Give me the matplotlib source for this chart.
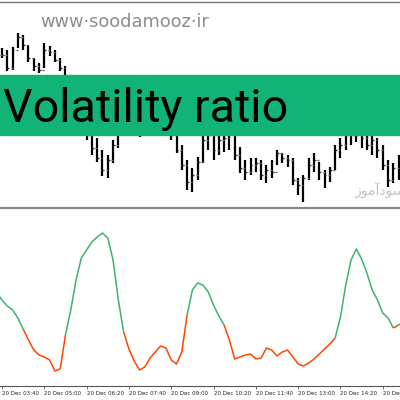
import matplotlib
matplotlib.use("Agg")
import matplotlib.pyplot as plt
from matplotlib.patches import Rectangle

# time axis: minutes after 20 Dec 03:40 (10-minute bars)
bar_time = list(range(0, 760, 10))
high = [162, 160, 163, 177, 175, 165, 152, 147, 167, 164, 160, 152, 144, 135, 122, 110,
        95, 82, 72, 60, 55, 70, 82, 98, 110, 112, 98, 105, 115, 122, 118, 105,
        92, 80, 65, 50, 42, 53, 75, 82, 75, 77, 80, 88, 80, 63, 50, 52,
        52, 50, 45, 50, 60, 57, 55, 52, 32, 35, 52, 57, 48, 40, 43, 65,
        72, 82, 85, 85, 80, 78, 77, 72, 65, 50, 47, 55]
low = [152, 139, 140, 162, 160, 148, 139, 137, 142, 154, 148, 139, 130, 115, 100, 85,
       70, 55, 48, 34, 32, 47, 62, 77, 85, 88, 73, 80, 92, 100, 95, 82,
       70, 57, 40, 20, 18, 30, 47, 60, 50, 55, 58, 60, 50, 37, 30, 35,
       38, 30, 27, 32, 45, 47, 43, 25, 15, 8, 30, 38, 30, 22, 28, 40,
       52, 60, 65, 68, 62, 60, 55, 52, 40, 23, 27, 30]
close = [155, 142, 160, 173, 165, 152, 144, 140, 160, 158, 150, 142, 132, 120, 105, 90,
         75, 62, 52, 40, 50, 65, 78, 92, 102, 95, 85, 100, 110, 115, 102, 88,
         75, 60, 45, 28, 35, 48, 70, 75, 60, 70, 72, 82, 55, 42, 38, 45,
         47, 35, 40, 38, 57, 52, 50, 30, 25, 32, 45, 50, 38, 35, 40, 60,
         65, 75, 78, 75, 72, 65, 70, 60, 45, 30, 42, 50]

# volatility ratio indicator
vr_time = list(range(-10, 770, 10))
vr = [92, 85, 79, 75, 67, 56, 45, 35, 30, 28, 25, 14, 16, 50, 75, 105,
      127, 135, 143, 148, 152, 147, 125, 85, 53, 36, 24, 15, 18, 27, 33, 39,
      37, 25, 21, 33, 70, 95, 102, 100, 93, 80, 69, 60, 45, 26, 28, 30,
      31, 26, 27, 37, 35, 29, 33, 35, 28, 21, 19, 22, 26, 31, 36, 41,
      47, 68, 100, 125, 136, 126, 112, 95, 85, 72, 67, 57, 60, 64]
# times where the line colour flips (starts green)
vr_switch = [40, 120, 230, 350, 420, 630, 740, 750]

tick_time = [0, 80, 160, 240, 320, 400, 480, 560, 640, 720]
tick_labels = ["20 Dec 03:40", "20 Dec 05:00", "20 Dec 06:20", "20 Dec 07:40",
               "20 Dec 09:00", "20 Dec 10:20", "20 Dec 11:40", "20 Dec 13:00",
               "20 Dec 14:20", "20 Dec 15:40"]

xmin, xmax = -3.8, 752.6

fig = plt.figure(figsize=(4, 4), dpi=100)

# price panel
ax1 = fig.add_axes([0, 0.48, 1, 0.515])
opens = [close[0]] + close[:-1]
ax1.vlines(bar_time, low, high, color="black", lw=1.6)
ax1.hlines(close, [t for t in bar_time], [t + 3.5 for t in bar_time], color="#333333", lw=1.0)
ax1.hlines(opens, [t - 3.5 for t in bar_time], [t for t in bar_time], color="#666666", lw=1.0)
ax1.set_xlim(xmin, xmax)
ax1.set_ylim(2, 208)
ax1.set_xticks([])
ax1.set_yticks([])
for s in ["left", "right"]:
    ax1.spines[s].set_visible(False)
ax1.spines["top"].set_color("#777777")
ax1.spines["top"].set_linewidth(1.0)
ax1.spines["bottom"].set_color("#888888")
ax1.spines["bottom"].set_linewidth(1.6)

# indicator panel
ax2 = fig.add_axes([0, 0.035, 1, 0.44])
bounds = [vr_time[0]] + vr_switch + [vr_time[-1]]
colors = ["#3cb371", "#ff4500"]
for k in range(len(bounds) - 1):
    a, b = bounds[k], bounds[k + 1]
    xs = [t for t in vr_time if a <= t <= b]
    ys = [v for t, v in zip(vr_time, vr) if a <= t <= b]
    ax2.plot(xs, ys, color=colors[k % 2], lw=1.1, solid_capstyle="butt")
ax2.set_xlim(xmin, xmax)
ax2.set_ylim(-1, 175)
ax2.set_yticks([])
for s in ["left", "right", "top"]:
    ax2.spines[s].set_visible(False)
ax2.spines["bottom"].set_color("#555555")
ax2.spines["bottom"].set_linewidth(0.8)
ax2.set_xticks(tick_time)
ax2.set_xticklabels(tick_labels, fontsize=4, color="#222222")
ax2.tick_params(axis="x", length=2, width=0.6, color="#555555", pad=1.5)
for lbl in ax2.get_xticklabels():
    lbl.set_ha("left")

# watermarks and banner
fig.text(40 / 400, 1 - 22 / 400, "www\u00b7soodamooz\u00b7ir", fontsize=12.8,
         color="#8c8c8c", va="center", ha="left", family="DejaVu Sans")
fig.text(355 / 400, 1 - 191 / 400, "\ufeaf\ufeee\ufee3\ufe81\ufea9\ufeee\ufeb3",
         fontsize=10, color="#c4c4c4", va="center", ha="left", family="DejaVu Sans")
fig.patches.append(Rectangle((0, 1 - 135 / 400), 1, 60 / 400, transform=fig.transFigure,
                             color="#12b377", zorder=5))
fig.text(3 / 400, 1 - 122 / 400, "Volatility ratio", fontsize=33.5, color="black",
         va="baseline", ha="left", family="Roboto", zorder=6)

fig.savefig("out.png", dpi=100)
